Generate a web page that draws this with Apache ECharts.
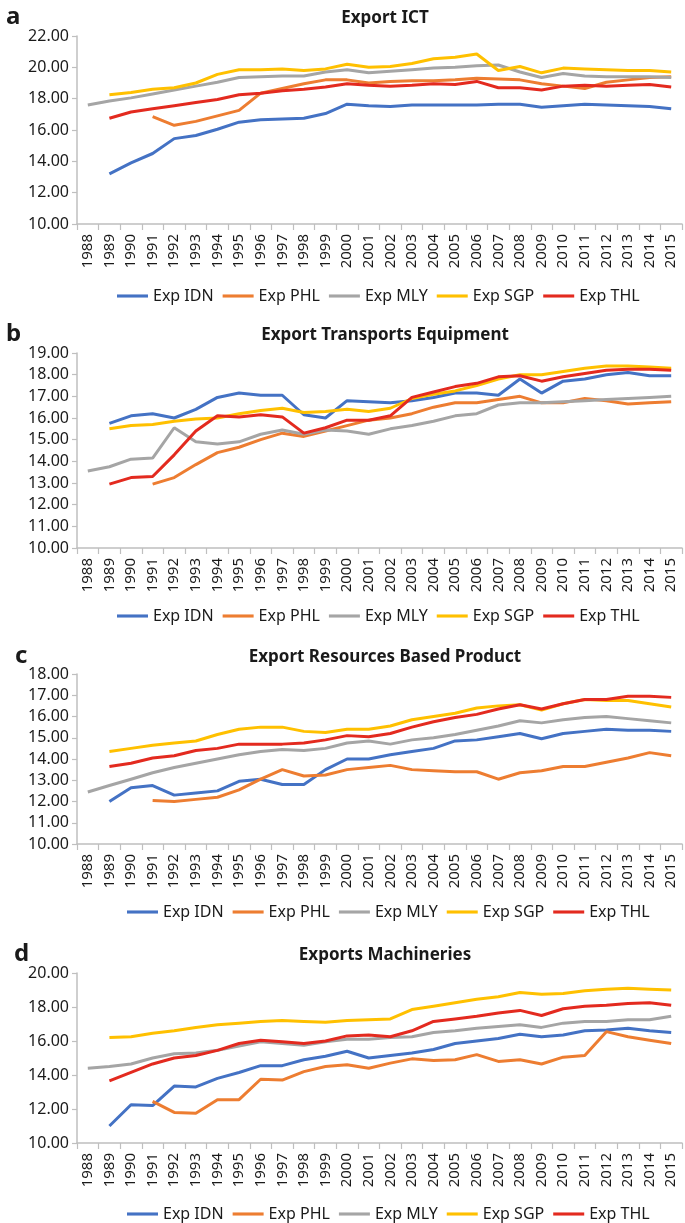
<!DOCTYPE html>
<html><head><meta charset="utf-8">
<script src="https://cdn.jsdelivr.net/npm/echarts@6/dist/echarts.min.js"></script>
<style>html,body{margin:0;padding:0;background:#fff}#c{width:685px;height:1223px}</style>
</head><body><div id="c"></div>
<script>
const years = ['1988','1989','1990','1991','1992','1993','1994','1995','1996','1997','1998','1999','2000','2001','2002','2003','2004','2005','2006','2007','2008','2009','2010','2011','2012','2013','2014','2015'];
const seriesNames = ['Exp IDN','Exp PHL','Exp MLY','Exp SGP','Exp THL'];
const panelTitles = ['Export ICT','Export Transports Equipment','Export Resources Based Product','Exports Machineries'];
const panelLetters = ['a','b','c','d'];

// Panel a: Export ICT
const ictIDN = [null,13.2,13.9,14.5,15.45,15.65,16.05,16.5,16.65,16.7,16.75,17.05,17.65,17.55,17.5,17.6,17.6,17.6,17.6,17.65,17.65,17.45,17.55,17.65,17.6,17.55,17.5,17.35];
const ictPHL = [null,null,null,16.85,16.3,16.55,16.9,17.25,18.35,18.65,18.95,19.2,19.2,19.0,19.1,19.15,19.15,19.2,19.3,19.25,19.2,18.95,18.8,18.65,19.05,19.2,19.35,19.4];
const ictMLY = [17.6,17.85,18.05,18.3,18.55,18.8,19.05,19.35,19.4,19.45,19.45,19.7,19.85,19.65,19.75,19.85,19.95,20.0,20.1,20.15,19.7,19.35,19.6,19.45,19.4,19.4,19.4,19.35];
const ictSGP = [null,18.25,18.4,18.6,18.7,19.0,19.55,19.85,19.85,19.9,19.8,19.9,20.2,20.0,20.05,20.25,20.55,20.65,20.85,19.8,20.05,19.65,19.95,19.9,19.85,19.8,19.8,19.7];
const ictTHL = [null,16.75,17.15,17.35,17.55,17.75,17.95,18.25,18.35,18.5,18.6,18.75,18.95,18.85,18.8,18.85,18.95,18.9,19.1,18.7,18.7,18.55,18.8,18.85,18.8,18.85,18.9,18.75];

// Panel b: Export Transports Equipment
const trIDN = [null,15.75,16.1,16.2,16.0,16.4,16.95,17.15,17.05,17.05,16.15,16.0,16.8,16.75,16.7,16.8,16.95,17.15,17.15,17.05,17.8,17.15,17.7,17.8,18.0,18.1,17.95,17.95];
const trPHL = [null,null,null,12.95,13.25,13.85,14.4,14.65,15.0,15.3,15.15,15.4,15.65,15.9,16.0,16.2,16.5,16.7,16.7,16.85,17.0,16.7,16.7,16.9,16.8,16.65,16.7,16.75];
const trMLY = [13.55,13.75,14.1,14.15,15.55,14.9,14.8,14.9,15.25,15.45,15.25,15.45,15.4,15.25,15.5,15.65,15.85,16.1,16.2,16.6,16.7,16.7,16.75,16.8,16.85,16.9,16.95,17.0];
const trSGP = [null,15.5,15.65,15.7,15.85,15.95,16.0,16.2,16.35,16.45,16.25,16.3,16.4,16.3,16.45,16.9,17.1,17.25,17.5,17.8,18.0,18.0,18.15,18.3,18.4,18.4,18.35,18.3];
const trTHL = [null,12.95,13.25,13.3,14.3,15.4,16.1,16.05,16.15,16.05,15.3,15.55,15.9,15.9,16.1,16.95,17.2,17.45,17.6,17.9,17.95,17.7,17.9,18.05,18.2,18.25,18.25,18.2];

// Panel c: Export Resources Based Product
const rbIDN = [null,12.0,12.65,12.75,12.3,12.4,12.5,12.95,13.05,12.8,12.8,13.5,14.0,14.0,14.2,14.35,14.5,14.85,14.9,15.05,15.2,14.95,15.2,15.3,15.4,15.35,15.35,15.3];
const rbPHL = [null,null,null,12.05,12.0,12.1,12.2,12.55,13.05,13.5,13.2,13.25,13.5,13.6,13.7,13.5,13.45,13.4,13.4,13.05,13.35,13.45,13.65,13.65,13.85,14.05,14.3,14.15];
const rbMLY = [12.45,12.75,13.05,13.35,13.6,13.8,14.0,14.2,14.35,14.45,14.4,14.5,14.75,14.85,14.7,14.9,15.0,15.15,15.35,15.55,15.8,15.7,15.85,15.95,16.0,15.9,15.8,15.7];
const rbSGP = [null,14.35,14.5,14.65,14.75,14.85,15.15,15.4,15.5,15.5,15.3,15.25,15.4,15.4,15.55,15.85,16.0,16.15,16.4,16.5,16.55,16.3,16.6,16.8,16.75,16.75,16.6,16.45];
const rbTHL = [null,13.65,13.8,14.05,14.15,14.4,14.5,14.7,14.7,14.7,14.75,14.9,15.1,15.05,15.2,15.5,15.75,15.95,16.1,16.35,16.55,16.35,16.6,16.8,16.8,16.95,16.95,16.9];

// Panel d: Exports Machineries
const mcIDN = [null,11.0,12.25,12.2,13.35,13.3,13.8,14.15,14.55,14.55,14.9,15.1,15.4,15.0,15.15,15.3,15.5,15.85,16.0,16.15,16.4,16.25,16.35,16.6,16.65,16.75,16.6,16.5];
const mcPHL = [null,null,null,12.45,11.8,11.75,12.55,12.55,13.75,13.7,14.2,14.5,14.6,14.4,14.7,14.95,14.85,14.9,15.2,14.8,14.9,14.65,15.05,15.15,16.55,16.25,16.05,15.85];
const mcMLY = [14.4,14.5,14.65,15.0,15.25,15.3,15.45,15.7,15.95,15.85,15.75,15.95,16.1,16.1,16.2,16.25,16.5,16.6,16.75,16.85,16.95,16.8,17.05,17.15,17.15,17.25,17.25,17.45];
const mcSGP = [null,16.2,16.25,16.45,16.6,16.8,16.95,17.05,17.15,17.2,17.15,17.1,17.2,17.25,17.3,17.85,18.05,18.25,18.45,18.6,18.85,18.75,18.8,18.95,19.05,19.1,19.05,19.0];
const mcTHL = [null,13.65,14.15,14.65,15.0,15.15,15.45,15.85,16.05,15.95,15.85,16.0,16.3,16.35,16.25,16.6,17.15,17.3,17.45,17.65,17.8,17.5,17.9,18.05,18.1,18.2,18.25,18.1];

const yMin = [10,10,10,10];
const yMax = [22,19,18,20];
const yStep = [2,1,1,2];

const panelData = [
  [ictIDN,ictPHL,ictMLY,ictSGP,ictTHL],
  [trIDN,trPHL,trMLY,trSGP,trTHL],
  [rbIDN,rbPHL,rbMLY,rbSGP,rbTHL],
  [mcIDN,mcPHL,mcMLY,mcSGP,mcTHL]
];

const colors = ['#4472C4','#ED7D31','#A5A5A5','#FFC000','#E32A1F'];
const FONT = "'Noto Sans', 'Open Sans', sans-serif";
const TXT = '#1a1a1a';
const AX = '#BFBFBF';

// layout (pixels)
const gridTop = [36,353,674,973];
const gridH = [188,195,170,170];
const titleTop = [5,322,644,942];
const legendTop = [283,603,899,1201];
const legendLeft = [112,112,122,122];
const letterLeft = [1,1,10,9];

const chart = echarts.init(document.getElementById('c'), null, {renderer:'canvas'});
const grids=[],xAxes=[],yAxes=[],series=[],titles=[],legends=[];
for(let p=0;p<4;p++){
  grids.push({left:77,right:3,top:gridTop[p],height:gridH[p],containLabel:false});
  xAxes.push({type:'category',gridIndex:p,data:years,boundaryGap:true,
    axisLine:{lineStyle:{color:AX,width:1.5}},
    axisTick:{show:true,alignWithLabel:false,length:6,lineStyle:{color:AX,width:1.2}},
    axisLabel:{rotate:90,interval:0,margin:10,fontSize:15,color:TXT,fontFamily:FONT},
    splitLine:{show:false}});
  yAxes.push({type:'value',gridIndex:p,min:yMin[p],max:yMax[p],interval:yStep[p],
    axisLine:{show:true,lineStyle:{color:AX,width:1.5}},
    axisTick:{show:true,length:5,lineStyle:{color:AX,width:1.2}},
    axisLabel:{fontSize:16,color:TXT,fontFamily:FONT,margin:8,formatter:v=>v.toFixed(2)},
    splitLine:{show:false}});
  for(let s=0;s<5;s++){
    series.push({type:'line',name:seriesNames[s],xAxisIndex:p,yAxisIndex:p,data:panelData[p][s],
      symbol:'none',showSymbol:false,connectNulls:false,color:colors[s],
      lineStyle:{width:3,color:colors[s]},z:2+s});
  }
  titles.push({text:panelTitles[p],left:380,textAlign:'center',top:titleTop[p],
    textStyle:{fontSize:17,fontWeight:'bold',color:TXT,fontFamily:FONT}});
  titles.push({text:panelLetters[p],left:letterLeft[p],top:titleTop[p]-5,
    textStyle:{fontSize:24,fontWeight:'bold',color:TXT,fontFamily:FONT}});
  legends.push({data:seriesNames,top:legendTop[p],left:legendLeft[p],itemWidth:31,itemHeight:14,itemGap:9,
    icon:'path://M0,0 L10,0 L10,1 L0,1 Z',
    textStyle:{fontSize:16,color:TXT,fontFamily:FONT},selectedMode:false});
}
chart.setOption({animation:false,backgroundColor:'#fff',title:titles,legend:legends,grid:grids,xAxis:xAxes,yAxis:yAxes,series:series});
</script></body></html>
